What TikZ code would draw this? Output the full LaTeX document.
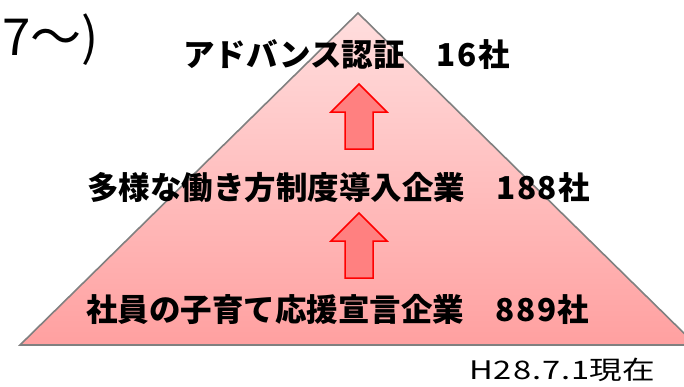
\documentclass[tikz,border=0pt]{standalone}
\usepackage{fontspec}
\newfontfamily\jp{Noto Sans CJK JP}
\newfontfamily\jpwide[FakeStretch=1.28]{Noto Sans CJK JP}
\definecolor{tritop}{RGB}{255,222,222}
\definecolor{tribot}{RGB}{255,160,160}
\definecolor{arrfill}{RGB}{255,128,128}
\definecolor{edgegray}{RGB}{128,128,128}
\tikzset{
  lbl/.style={inner sep=0pt, font=\jp\bfseries\fontsize{31.5}{31.5}\selectfont, anchor=base west},
  uparrow/.style={draw=red, fill=arrfill, line width=1.5pt, line join=miter},
}
\begin{document}
\begin{tikzpicture}[x=1pt,y=-1pt]
\useasboundingbox (0,0) rectangle (684,386);
\clip (0,0) rectangle (684,386);
% pyramid
\shade[top color=tritop, bottom color=tribot, draw=edgegray, line width=1.6pt, line join=miter]
  (358,13) -- (20,345) -- (696,345) -- cycle;
% arrows
\draw[uparrow] (359,84) -- (387,112) -- (373,112) -- (373,149) -- (345,149) -- (345,112) -- (331,112) -- cycle;
\draw[uparrow] (359,213) -- (387,241) -- (373,241) -- (373,278) -- (345,278) -- (345,241) -- (331,241) -- cycle;
% labels
\node[lbl] (t1) at (183,66) {アドバンス認証　\addfontfeature{LetterSpace=6}16社};
\node[lbl] (t2) at (87,199) {多様な働き方制度導入企業　\addfontfeature{LetterSpace=4}188社};
\node[lbl] (t3) at (86,321) {社員の子育て応援宣言企業　\addfontfeature{LetterSpace=5}889社};
\node[inner sep=0pt, anchor=base west, font=\jp\fontsize{51}{51}\selectfont] (top) at (2,55) {7～)};
\node[inner sep=0pt, anchor=base west, font=\jpwide\fontsize{25.5}{25.5}\selectfont] (date) at (469,379) {\addfontfeature{LetterSpace=4}H28.7.1\addfontfeature{LetterSpace=0}現在};
\end{tikzpicture}
\end{document}
